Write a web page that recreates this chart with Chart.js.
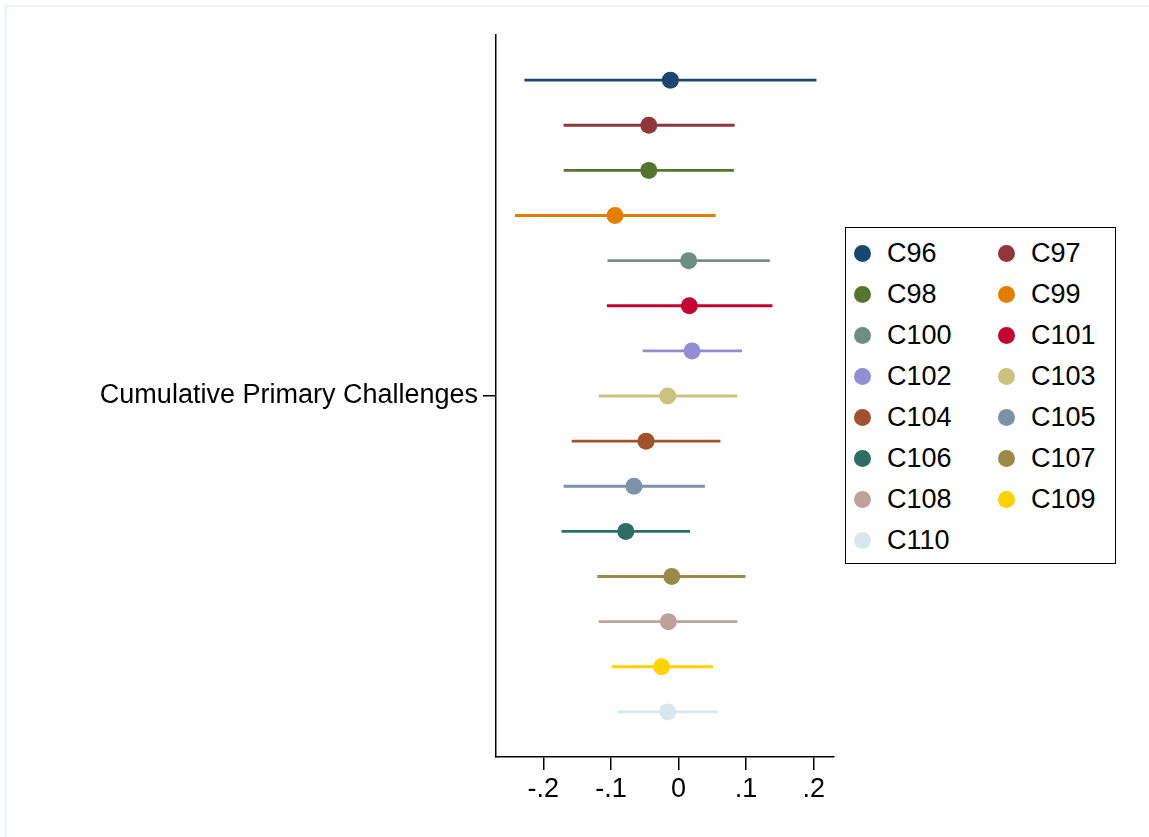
<!DOCTYPE html>
<html>
<head>
<meta charset="utf-8">
<script src="https://cdn.jsdelivr.net/npm/chart.js@4.4.1/dist/chart.umd.min.js"></script>
<style>
  html, body { margin: 0; padding: 0; background: #fff; }
  #wrap { position: relative; width: 1149px; height: 837px; overflow: hidden; }
  #frame { position: absolute; left: 5px; top: 5px; right: 0; bottom: 0;
           border-top: 2px solid #edf2f5; border-left: 2px solid #edf2f5; }
  #legend { position: absolute; left: 845px; top: 227px; width: 271px; height: 337px;
            box-sizing: border-box; border: 1.5px solid #000; background: #fff;
            padding: 5px 0 0 8px; display: grid; grid-template-columns: 144px 1fr;
            grid-auto-rows: 41px; font-family: "Liberation Sans", Arial, sans-serif;
            font-size: 27px; color: #000; }
  .item { display: flex; align-items: center; }
  .dot { width: 17px; height: 17px; border-radius: 50%; margin-right: 16px; flex: none; }
</style>
</head>
<body>
<div id="wrap">
  <div id="frame"></div>
  <canvas id="chart" width="1149" height="837"></canvas>
  <div id="legend"></div>
</div>
<script>
// series names, point estimates and confidence bounds
const seriesNames = ['C96', 'C97', 'C98', 'C99', 'C100', 'C101', 'C102', 'C103',
                     'C104', 'C105', 'C106', 'C107', 'C108', 'C109', 'C110'];
const estimates = [-0.012, -0.044, -0.044, -0.094, 0.015, 0.016, 0.020, -0.016,
                   -0.048, -0.066, -0.078, -0.010, -0.015, -0.025, -0.016];
const lowerBounds = [-0.228, -0.170, -0.170, -0.242, -0.105, -0.106, -0.053, -0.118,
                     -0.158, -0.170, -0.173, -0.120, -0.118, -0.099, -0.090];
const upperBounds = [0.204, 0.083, 0.082, 0.055, 0.135, 0.139, 0.094, 0.087,
                     0.062, 0.039, 0.017, 0.099, 0.087, 0.051, 0.057];
const seriesColors = ['#1a476f', '#90353b', '#55752f', '#e37e00', '#6e8e84', '#c10534',
                      '#938dd2', '#cac27e', '#a0522d', '#7b92a8', '#2d6d66', '#9c8847',
                      '#bfa19c', '#ffd200', '#d9e6eb'];
const xTicks = [-0.2, -0.1, 0, 0.1, 0.2];
const xTickLabels = ['-.2', '-.1', '0', '.1', '.2'];
const yLabel = 'Cumulative Primary Challenges';

const font = { family: '"Liberation Sans", Arial, sans-serif', size: 27 };

const datasets = [];
seriesNames.forEach((name, i) => {
  datasets.push({
    label: name,
    data: [{ x: estimates[i], y: i + 1 }],
    backgroundColor: seriesColors[i],
    borderColor: seriesColors[i],
    borderWidth: 0,
    pointRadius: 8.5,
    pointHoverRadius: 8.5,
    order: 0
  });
  datasets.push({
    label: name + ' CI',
    isCI: true,
    data: [{ x: lowerBounds[i], y: i + 1 }, { x: upperBounds[i], y: i + 1 }],
    showLine: true,
    borderColor: seriesColors[i],
    borderWidth: 2.8,
    pointRadius: 0,
    order: 1
  });
});

const chart = new Chart(document.getElementById('chart'), {
  type: 'scatter',
  data: { datasets },
  options: {
    responsive: false,
    animation: false,
    layout: { padding: { left: 0, top: 35, right: 315, bottom: 20 } },
    plugins: {
      legend: { display: false },
      tooltip: { enabled: false }
    },
    scales: {
      x: {
        type: 'linear',
        min: -0.27,
        max: 0.23,
        afterBuildTicks: (scale) => { scale.ticks = xTicks.map(v => ({ value: v })); },
        afterFit: (scale) => { scale.height = 60; },
        ticks: {
          font,
          color: '#000',
          padding: 3,
          maxRotation: 0,
          callback: (v, i) => xTickLabels[i]
        },
        grid: { drawOnChartArea: false, drawTicks: true, tickLength: 13, color: '#000', lineWidth: 1.5 },
        border: { display: true, color: '#000', width: 1.5 }
      },
      y: {
        type: 'linear',
        min: 0,
        max: 16,
        reverse: true,
        afterBuildTicks: (scale) => { scale.ticks = [{ value: 8 }]; },
        afterFit: (scale) => { scale.width = 496; },
        ticks: {
          font,
          color: '#000',
          padding: 5,
          callback: () => yLabel
        },
        grid: { drawOnChartArea: false, drawTicks: true, tickLength: 13, color: '#000', lineWidth: 1.5 },
        border: { display: true, color: '#000', width: 1.5 }
      }
    }
  }
});

// legend built from the chart's own legend items, laid out row by row in two columns
const legendEl = document.getElementById('legend');
chart.options.plugins.legend.labels.generateLabels(chart)
  .filter(item => !chart.data.datasets[item.datasetIndex].isCI)
  .sort((a, b) => a.datasetIndex - b.datasetIndex)
  .forEach(item => {
    const div = document.createElement('div');
    div.className = 'item';
    const dot = document.createElement('span');
    dot.className = 'dot';
    dot.style.background = item.fillStyle;
    const txt = document.createElement('span');
    txt.textContent = item.text;
    div.appendChild(dot);
    div.appendChild(txt);
    legendEl.appendChild(div);
  });
</script>
</body>
</html>
